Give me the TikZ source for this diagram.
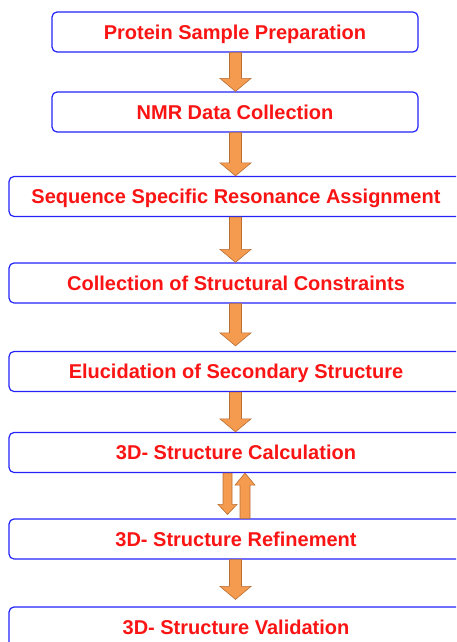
\documentclass[tikz,border=0pt]{standalone}
\usepackage{fontspec}
\setmainfont{Liberation Sans}
\usepackage{tikz}
\usetikzlibrary{calc}

\definecolor{boxblue}{RGB}{35,35,250}
\definecolor{textred}{RGB}{250,20,20}
\definecolor{arrfill}{RGB}{245,155,80}
\definecolor{arrdraw}{RGB}{185,110,50}

\tikzset{
  stepbox/.style={draw=boxblue, line width=1.2pt, rounded corners=5pt, fill=white,
    minimum height=40pt, inner sep=0pt, text height=14.5pt, text depth=0pt,
    text=textred, font=\bfseries\fontsize{20}{22}\selectfont},
  narrowbox/.style={stepbox, minimum width=366pt},
  widebox/.style={stepbox, minimum width=454pt},
  flowarr/.style={fill=arrfill, draw=arrdraw, line width=0.6pt, line join=miter}
}

% block arrow: #1 start, #2 tip, #3 x shift, #4 half shaft, #5 half head, #6 head length
\newcommand{\flowarrow}[6]{%
  \draw[flowarr] let \p1=(#1), \p2=(#2), \n1={sign(\y1-\y2)} in
    (\x1+#3-#4,\y1) -- (\x1+#3-#4,\y2+\n1*#6) -- (\x1+#3-#5,\y2+\n1*#6) -- (\x1+#3,\y2)
    -- (\x1+#3+#5,\y2+\n1*#6) -- (\x1+#3+#4,\y2+\n1*#6) -- (\x1+#3+#4,\y1) -- cycle;
}

\begin{document}
\begin{tikzpicture}[x=1pt,y=-1pt]
  \useasboundingbox (0,0) rectangle (456,642);
  \clip (0,0) rectangle (456,642);

  \node[narrowbox] (prep) at (235,32) {Protein Sample Preparation};
  \node[narrowbox] (nmr) at (235,112) {NMR Data Collection};
  \node[widebox] (assign) at (236,196.5) {Sequence Specific Resonance Assignment};
  \node[widebox] (constr) at (236,283) {Collection of Structural Constraints};
  \node[widebox] (second) at (236,371.5) {Elucidation of Secondary Structure};
  \node[widebox] (calc) at (236,452.5) {3D- Structure Calculation};
  \node[widebox] (refine) at (236,539) {3D- Structure Refinement};
  \node[widebox] (valid) at (236,627) {3D- Structure Validation};

  \flowarrow{prep.south}{nmr.north}{0.5pt}{6pt}{15.5pt}{13pt}
  \flowarrow{nmr.south}{assign.north}{0.5pt}{6pt}{15.5pt}{13pt}
  \flowarrow{assign.south}{constr.north}{-0.5pt}{6pt}{15.5pt}{13pt}
  \flowarrow{constr.south}{$(second.north)+(0,-5)$}{-0.5pt}{6pt}{15.5pt}{13pt}
  \flowarrow{second.south}{calc.north}{-0.5pt}{6pt}{15.5pt}{13pt}

  % calculation <-> refinement
  \flowarrow{calc.south}{$(refine.north)+(0,-4)$}{-8.5pt}{4.5pt}{9.5pt}{10pt}
  \flowarrow{refine.north}{calc.south}{9pt}{5pt}{10pt}{12pt}

  \flowarrow{refine.south}{$(valid.north)+(0,-7)$}{-0.5pt}{6pt}{15.5pt}{13pt}
\end{tikzpicture}
\end{document}
